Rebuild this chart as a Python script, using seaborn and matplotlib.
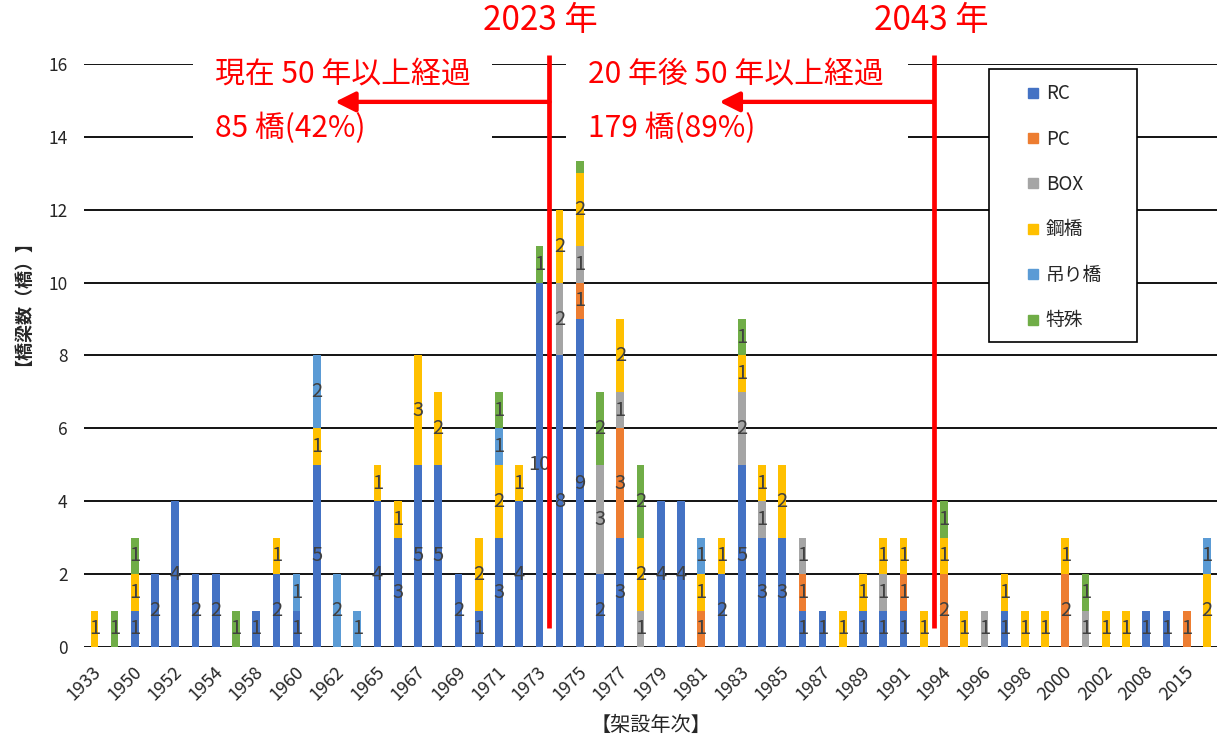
import numpy as np
import pandas as pd
import matplotlib
matplotlib.use("Agg")
import matplotlib.pyplot as plt
import seaborn as sns
from matplotlib.patches import Rectangle
from matplotlib.lines import Line2D
from matplotlib.transforms import ScaledTranslation

# Construction year of each bar group (every other one is labelled on the axis)
years = ["1933", "1940", "1950", "1951", "1952", "1953", "1954", "1956", "1958", "1959",
         "1960", "1961", "1962", "1963", "1965", "1966", "1967", "1968", "1969", "1970",
         "1971", "1972", "1973", "1974", "1975", "1976", "1977", "1978", "1979", "1980",
         "1981", "1982", "1983", "1984", "1985", "1986", "1987", "1988", "1989", "1990",
         "1991", "1993", "1994", "1995", "1996", "1997", "1998", "1999", "2000", "2001",
         "2002", "2005", "2008", "2010", "2015", "2017"]

# Bridge counts per structure type
rc      = [0, 0, 1, 2, 4, 2, 2, 0, 1, 2, 1, 5, 0, 0, 4, 3, 5, 5, 2, 1,
           3, 4, 10, 8, 9, 2, 3, 0, 4, 4, 0, 2, 5, 3, 3, 1, 1, 0, 1, 1,
           1, 0, 0, 0, 0, 1, 0, 0, 0, 0, 0, 0, 1, 1, 0, 0]
pc      = [0, 0, 0, 0, 0, 0, 0, 0, 0, 0, 0, 0, 0, 0, 0, 0, 0, 0, 0, 0,
           0, 0, 0, 0, 1, 0, 3, 0, 0, 0, 1, 0, 0, 0, 0, 1, 0, 0, 0, 0,
           1, 0, 2, 0, 0, 0, 0, 0, 2, 0, 0, 0, 0, 0, 1, 0]
box     = [0, 0, 0, 0, 0, 0, 0, 0, 0, 0, 0, 0, 0, 0, 0, 0, 0, 0, 0, 0,
           0, 0, 0, 2, 1, 3, 1, 1, 0, 0, 0, 0, 2, 1, 0, 1, 0, 0, 0, 1,
           0, 0, 0, 0, 1, 0, 0, 0, 0, 1, 0, 0, 0, 0, 0, 0]
steel   = [1, 0, 1, 0, 0, 0, 0, 0, 0, 1, 0, 1, 0, 0, 1, 1, 3, 2, 0, 2,
           2, 1, 0, 2, 2, 0, 2, 2, 0, 0, 1, 1, 1, 1, 2, 0, 0, 1, 1, 1,
           1, 1, 1, 1, 0, 1, 1, 1, 1, 0, 1, 1, 0, 0, 0, 2]
susp    = [0, 0, 0, 0, 0, 0, 0, 0, 0, 0, 1, 2, 2, 1, 0, 0, 0, 0, 0, 0,
           1, 0, 0, 0, 0, 0, 0, 0, 0, 0, 1, 0, 0, 0, 0, 0, 0, 0, 0, 0,
           0, 0, 0, 0, 0, 0, 0, 0, 0, 0, 0, 0, 0, 0, 0, 1]
special = [0, 1, 1, 0, 0, 0, 0, 1, 0, 0, 0, 0, 0, 0, 0, 0, 0, 0, 0, 0,
           1, 0, 1, 0, 1, 2, 0, 2, 0, 0, 0, 0, 1, 0, 0, 0, 0, 0, 0, 0,
           0, 0, 1, 0, 0, 0, 0, 0, 0, 1, 0, 0, 0, 0, 0, 0]

types = ["RC", "PC", "BOX", "鋼橋", "吊り橋", "特殊"]
colors = ["#4472C4", "#ED7D31", "#A5A5A5", "#FFC000", "#5B9BD5", "#70AD47"]

df = pd.DataFrame({"year": years, "RC": rc, "PC": pc, "BOX": box,
                   "鋼橋": steel, "吊り橋": susp, "特殊": special})
cum = df[types].cumsum(axis=1)
totals = cum[types[-1]].to_numpy()

# Bridges 50+ years old now (built up to 1973) and in 20 years (built up to 1993)
n_now = int(totals[: years.index("1973") + 1].sum())
n_future = int(totals[: years.index("1993") + 1].sum())
n_all = int(totals.sum())

sns.set_style("white")
plt.rcParams["font.family"] = ["Noto Sans CJK JP", "DejaVu Sans"]

fig = plt.figure(figsize=(12.19, 7.44), dpi=100)
ax = fig.add_axes([0.0691, 0.1304, 0.9293, 0.7836])

# Stacked bars: draw cumulative heights from the top layer down
for k in range(len(types) - 1, -1, -1):
    sns.barplot(x=df["year"], y=cum[types[k]], order=years, color=colors[k],
                saturation=1, width=0.38, errorbar=None, ax=ax, zorder=3,
                linewidth=0)

# Segment value labels
for i in range(len(years)):
    bottom = 0
    for t in types:
        v = df[t].iloc[i]
        if v > 0:
            ax.text(i, bottom + v / 2, f"{v}", ha="center", va="center",
                    fontsize=14.5, color="#404040", zorder=3.5)
        bottom += v

ax.set_xlim(-0.5, len(years) - 0.5)
ax.set_ylim(0, 16)
ax.set_yticks(np.arange(0, 17, 2))
ax.yaxis.grid(True, color="black", linewidth=1.3, zorder=0)
ax.set_axisbelow(True)
for s in ax.spines.values():
    s.set_visible(False)

ax.set_xticks(range(0, len(years), 2), labels=years[::2])
ax.tick_params(axis="x", length=0, pad=16, labelsize=13)
ax.tick_params(axis="y", length=0, pad=12, labelsize=12.5)
offset = ScaledTranslation(3 / 72, 0, fig.dpi_scale_trans)
for lab in ax.get_xticklabels():
    lab.set_rotation(45)
    lab.set_ha("right")
    lab.set_va("center")
    lab.set_rotation_mode("anchor")
    lab.set_transform(lab.get_transform() + offset)
ax.set_xlabel("")
ax.set_ylabel("")

ax.text(0.5, -0.134, "【架設年次】", transform=ax.transAxes, ha="center",
        va="center", fontsize=14.5)
ax.text(-0.062, 0.605, "【橋梁数（橋）】", transform=ax.transAxes, ha="center",
        va="center", rotation=90, fontsize=13, fontweight="bold")

# Annotation panels (white backing over the gridlines)
red = "#FF0000"
ax.add_patch(Rectangle((4.88, 13.34), 14.78, 3.1, facecolor="white",
                       edgecolor="none", zorder=4, clip_on=False))
ax.add_patch(Rectangle((23.31, 13.34), 16.91, 3.1, facecolor="white",
                       edgecolor="none", zorder=4, clip_on=False))

cut_now = years.index("1973") + 0.5
cut_future = years.index("1993") + 0.5
for xc in (cut_now, cut_future):
    ax.plot([xc, xc], [0.52, 16.25], color=red, linewidth=3.4, zorder=6,
            clip_on=False, solid_capstyle="butt")
for xc, xe in ((cut_now, 11.9), (cut_future, 30.9)):
    ax.annotate("", xy=(xe, 14.96), xytext=(xc, 14.96),
                arrowprops=dict(arrowstyle="-|>,head_length=0.6,head_width=0.3",
                                color=red, lw=3.1, mutation_scale=20,
                                shrinkA=0, shrinkB=0),
                zorder=6, annotation_clip=False)

ax.text(22.03, 17.2, "2023 年", ha="center", va="center", fontsize=24,
        color=red, clip_on=False)
ax.text(41.36, 17.2, "2043 年", ha="center", va="center", fontsize=24,
        color=red, clip_on=False)
ax.text(5.96, 15.7, "現在 50 年以上経過", ha="left", va="center", fontsize=21.5,
        color=red, zorder=5)
ax.text(5.96, 14.24, f"{n_now} 橋({round(100 * n_now / n_all)}%)", ha="left",
        va="center", fontsize=21.5, color=red, zorder=5)
ax.text(24.4, 15.7, "20 年後 50 年以上経過", ha="left", va="center", fontsize=21.5,
        color=red, zorder=5)
ax.text(24.4, 14.24, f"{n_future} 橋({round(100 * n_future / n_all)}%)", ha="left",
        va="center", fontsize=21.5, color=red, zorder=5)

# Legend with a framed white box
ax.add_patch(Rectangle((0.7987, 0.523), 0.1307, 0.468, transform=ax.transAxes,
                       facecolor="white", edgecolor="black", linewidth=1.2,
                       zorder=7))
handles = [Line2D([], [], marker="s", linestyle="", markersize=7,
                  markerfacecolor=c, markeredgecolor=c) for c in colors]
leg = ax.legend(handles, types, loc="upper left", bbox_to_anchor=(0.8305, 0.967),
                frameon=False, borderpad=0, handlelength=0.8, handletextpad=0.3,
                labelspacing=1.3, fontsize=13.5, borderaxespad=0)
leg.set_zorder(8)

fig.savefig("out.png", dpi=100)
